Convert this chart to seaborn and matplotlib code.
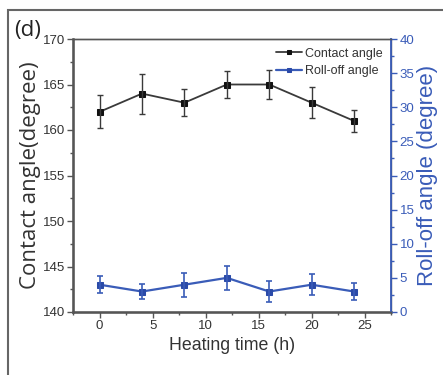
import matplotlib
matplotlib.use("Agg")
import matplotlib.pyplot as plt
from matplotlib.ticker import MultipleLocator
from matplotlib.patches import Rectangle
import seaborn as sns
import pandas as pd

heating_time = [0, 4, 8, 12, 16, 20, 24]
contact_angle = [162, 164, 163, 165, 165, 163, 161]
contact_err = [1.8, 2.2, 1.5, 1.45, 1.6, 1.7, 1.2]
rolloff_angle = [4, 3, 4, 5, 3, 4, 3]
rolloff_err = [1.25, 1.15, 1.75, 1.8, 1.6, 1.5, 1.2]

sns.set_style("ticks")
plt.rcParams['font.family'] = ['Liberation Sans', 'DejaVu Sans']

BLACK = "#111111"
LINEGRAY = "#3a3a3a"
BLUE = "#3a5cb8"
AXGRAY = "#555555"
TXT = "#333333"

df = pd.DataFrame({"t": heating_time, "ca": contact_angle, "ro": rolloff_angle})

fig = plt.figure(figsize=(4.43, 3.75), dpi=100)
ax = fig.add_axes([0.165, 0.168, 0.718, 0.728])
ax2 = ax.twinx()

sns.lineplot(data=df, x="t", y="ca", ax=ax, color=LINEGRAY, lw=1.3,
             marker="s", markersize=4, markerfacecolor=BLACK, markeredgecolor=BLACK,
             label="Contact angle", legend=False)
ax.errorbar(heating_time, contact_angle, yerr=contact_err, fmt="none",
            ecolor=LINEGRAY, elinewidth=1.0, capsize=2.5, capthick=1.0)

sns.lineplot(data=df, x="t", y="ro", ax=ax2, color=BLUE, lw=1.6,
             marker="s", markersize=4, markerfacecolor="#2a4aa8", markeredgecolor="#2a4aa8",
             label="Roll-off angle", legend=False)
ax2.errorbar(heating_time, rolloff_angle, yerr=rolloff_err, fmt="none",
             ecolor=BLUE, elinewidth=1.2, capsize=2.5, capthick=1.2)

ax.set_xlim(-2.5, 27.5)
ax.set_ylim(140, 170)
ax2.set_ylim(0, 40)

ax.xaxis.set_major_locator(MultipleLocator(5))
ax.xaxis.set_minor_locator(MultipleLocator(2.5))
ax.yaxis.set_major_locator(MultipleLocator(5))
ax.yaxis.set_minor_locator(MultipleLocator(2.5))
ax2.yaxis.set_major_locator(MultipleLocator(5))
ax2.yaxis.set_minor_locator(MultipleLocator(2.5))

for a in (ax, ax2):
    for s in a.spines.values():
        s.set_color(AXGRAY)
        s.set_linewidth(1.0)
ax.spines["left"].set_linewidth(1.8)
ax.spines["bottom"].set_linewidth(1.8)
ax2.spines["right"].set_color(BLUE)
ax2.spines["right"].set_linewidth(1.3)

ax.tick_params(axis="both", which="major", direction="out", length=4, width=1,
               color=AXGRAY, labelcolor=TXT, labelsize=9.5, pad=2)
ax.tick_params(axis="both", which="minor", direction="out", length=2, width=1, color=AXGRAY)
ax2.tick_params(axis="y", which="major", direction="out", length=4, width=1,
                color=BLUE, labelcolor=BLUE, labelsize=9.5, pad=2)
ax2.tick_params(axis="y", which="minor", direction="out", length=2, width=1, color=BLUE)

ax.set_xlabel("Heating time (h)", fontsize=12.8, color=TXT, labelpad=3)
ax.set_ylabel("Contact angle(degree)", fontsize=16, color=TXT, labelpad=1,
              family=["Open Sans", "DejaVu Sans"])
ax2.set_ylabel("Roll-off angle (degree)", fontsize=16, color=BLUE, labelpad=2)

h1, l1 = ax.get_legend_handles_labels()
h2, l2 = ax2.get_legend_handles_labels()
ax2.legend(h1 + h2, l1 + l2, loc="upper right", frameon=False, fontsize=9,
           handlelength=2.1, handletextpad=0.2, borderaxespad=0.3, labelspacing=0.45,
           labelcolor=TXT, markerscale=0.8)

fig.text(0.032, 0.903, "(d)", fontsize=16, color="#222222",
         family=["Open Sans", "DejaVu Sans"])
fig.patches.append(Rectangle((0.017, -0.05), 1.5, 1.023, transform=fig.transFigure,
                             fill=False, edgecolor="#666666", lw=1.5))

fig.savefig("out.png", dpi=100, facecolor="white")
